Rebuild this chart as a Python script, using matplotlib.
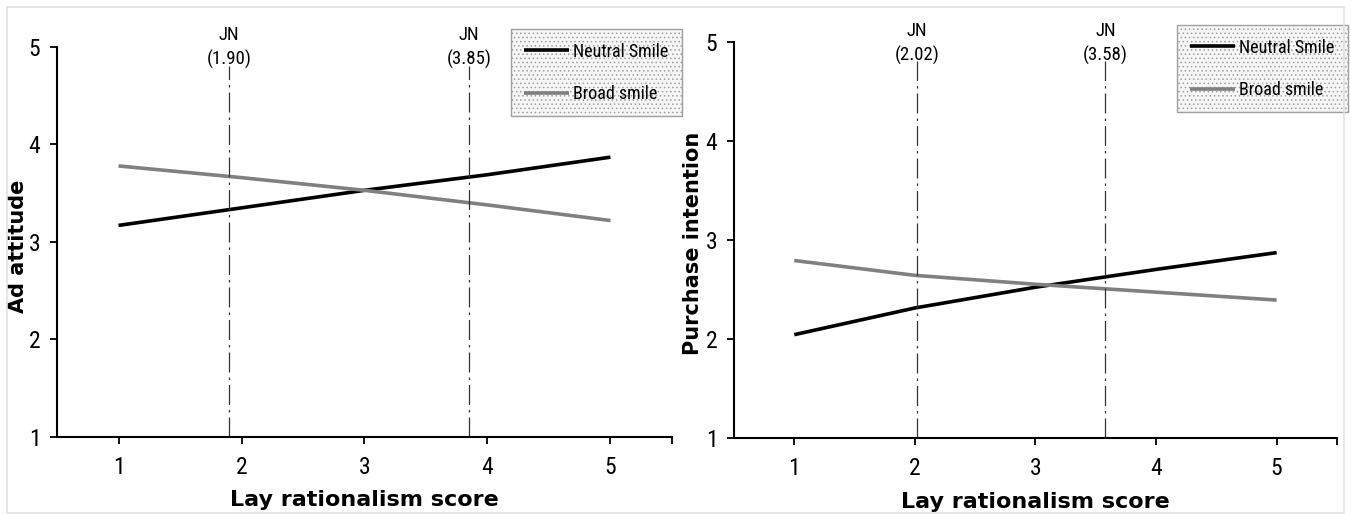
import matplotlib
matplotlib.use("Agg")
import matplotlib.pyplot as plt
from matplotlib import font_manager
from matplotlib.patches import Rectangle

# data
x_scores = [1, 2, 3, 4, 5]
series_names = ["Neutral Smile", "Broad smile"]

ad_neutral = [3.17, 3.35, 3.53, 3.69, 3.87]
ad_broad = [3.78, 3.66, 3.53, 3.38, 3.22]
ad_jn = [1.90, 3.85]

pi_neutral = [2.04, 2.31, 2.52, 2.70, 2.87]
pi_broad = [2.79, 2.64, 2.55, 2.47, 2.39]
pi_jn = [2.02, 3.58]

y_ticks = [1, 2, 3, 4, 5]


def pick_font(*names):
    have = {f.name for f in font_manager.fontManager.ttflist}
    for n in names:
        if n in have:
            return n
    return "DejaVu Sans"


narrow = pick_font("Liberation Sans Narrow", "DejaVu Sans Condensed", "Roboto Condensed")
wide = "DejaVu Sans"

plt.rcParams["hatch.linewidth"] = 0.6

fig = plt.figure(figsize=(13.51, 5.14), dpi=100)
fig.add_artist(Rectangle((0.0052, 0.002), 0.9896, 0.9844, transform=fig.transFigure,
                         fill=False, edgecolor="#e2e2e2", lw=1.2))

panels = [
    dict(rect=[0.0422, 0.1498, 0.4552, 0.7588], neutral=ad_neutral, broad=ad_broad,
         jn=ad_jn, ylabel="Ad attitude", ylab_x=-0.063, leg=(0.378, 0.9436)),
    dict(rect=[0.5433, 0.1488, 0.4463, 0.7695], neutral=pi_neutral, broad=pi_broad,
         jn=pi_jn, ylabel="Purchase intention", ylab_x=-0.068, leg=(0.871, 0.9514)),
]

for p in panels:
    ax = fig.add_axes(p["rect"])
    ax.plot(x_scores, p["neutral"], color="black", lw=2.6, label=series_names[0],
            solid_capstyle="butt")
    ax.plot(x_scores, p["broad"], color="#808080", lw=2.6, label=series_names[1],
            solid_capstyle="butt")

    for v in p["jn"]:
        ax.plot([v, v], [1, 4.81], color="#333333", lw=0.9,
                linestyle=(0, (16, 4, 2, 4)))
        ax.text(v, 4.77, "JN\n(%.2f)" % v, ha="center", va="bottom",
                fontsize=13.5, family=narrow, linespacing=1.4, clip_on=False)

    ax.set_xlim(0.5, 5.5)
    ax.set_ylim(1, 5)
    ax.set_xticks([1, 2, 3, 4, 5, 5.5])
    ax.set_xticklabels(["1", "2", "3", "4", "5", ""])
    ax.set_yticks(y_ticks)
    ax.tick_params(axis="both", direction="out", length=5, width=1.3,
                   labelsize=17, colors="black")
    ax.tick_params(axis="x", pad=9)
    ax.tick_params(axis="y", pad=7)
    for lab in ax.get_xticklabels() + ax.get_yticklabels():
        lab.set_family(narrow)

    for side in ["top", "right"]:
        ax.spines[side].set_visible(False)
    for side in ["left", "bottom"]:
        ax.spines[side].set_linewidth(1.5)

    ax.set_xlabel("Lay rationalism score", fontsize=16, fontweight="bold",
                  family=wide)
    ax.xaxis.set_label_coords(0.5, -0.162)
    ax.xaxis.label.set_va("center")
    ax.set_ylabel(p["ylabel"], fontsize=15, fontweight="bold", family=wide)
    ax.yaxis.set_label_coords(p["ylab_x"], 0.49)
    ax.yaxis.label.set_va("center")

    leg = ax.legend(loc="upper left", bbox_to_anchor=p["leg"],
                    bbox_transform=fig.transFigure, prop={"family": narrow, "size": 13},
                    handlelength=2.5, handletextpad=0.2, labelspacing=1.35,
                    borderpad=0.75, borderaxespad=0, fancybox=False, framealpha=1)
    fr = leg.get_frame()
    fr.set_facecolor("#f6f6f6")
    fr.set_edgecolor("#a0a0a0")
    fr.set_linewidth(1.0)
    fr.set_hatch("....")
    leg.set_zorder(5)

fig.savefig("out.png", dpi=100)
